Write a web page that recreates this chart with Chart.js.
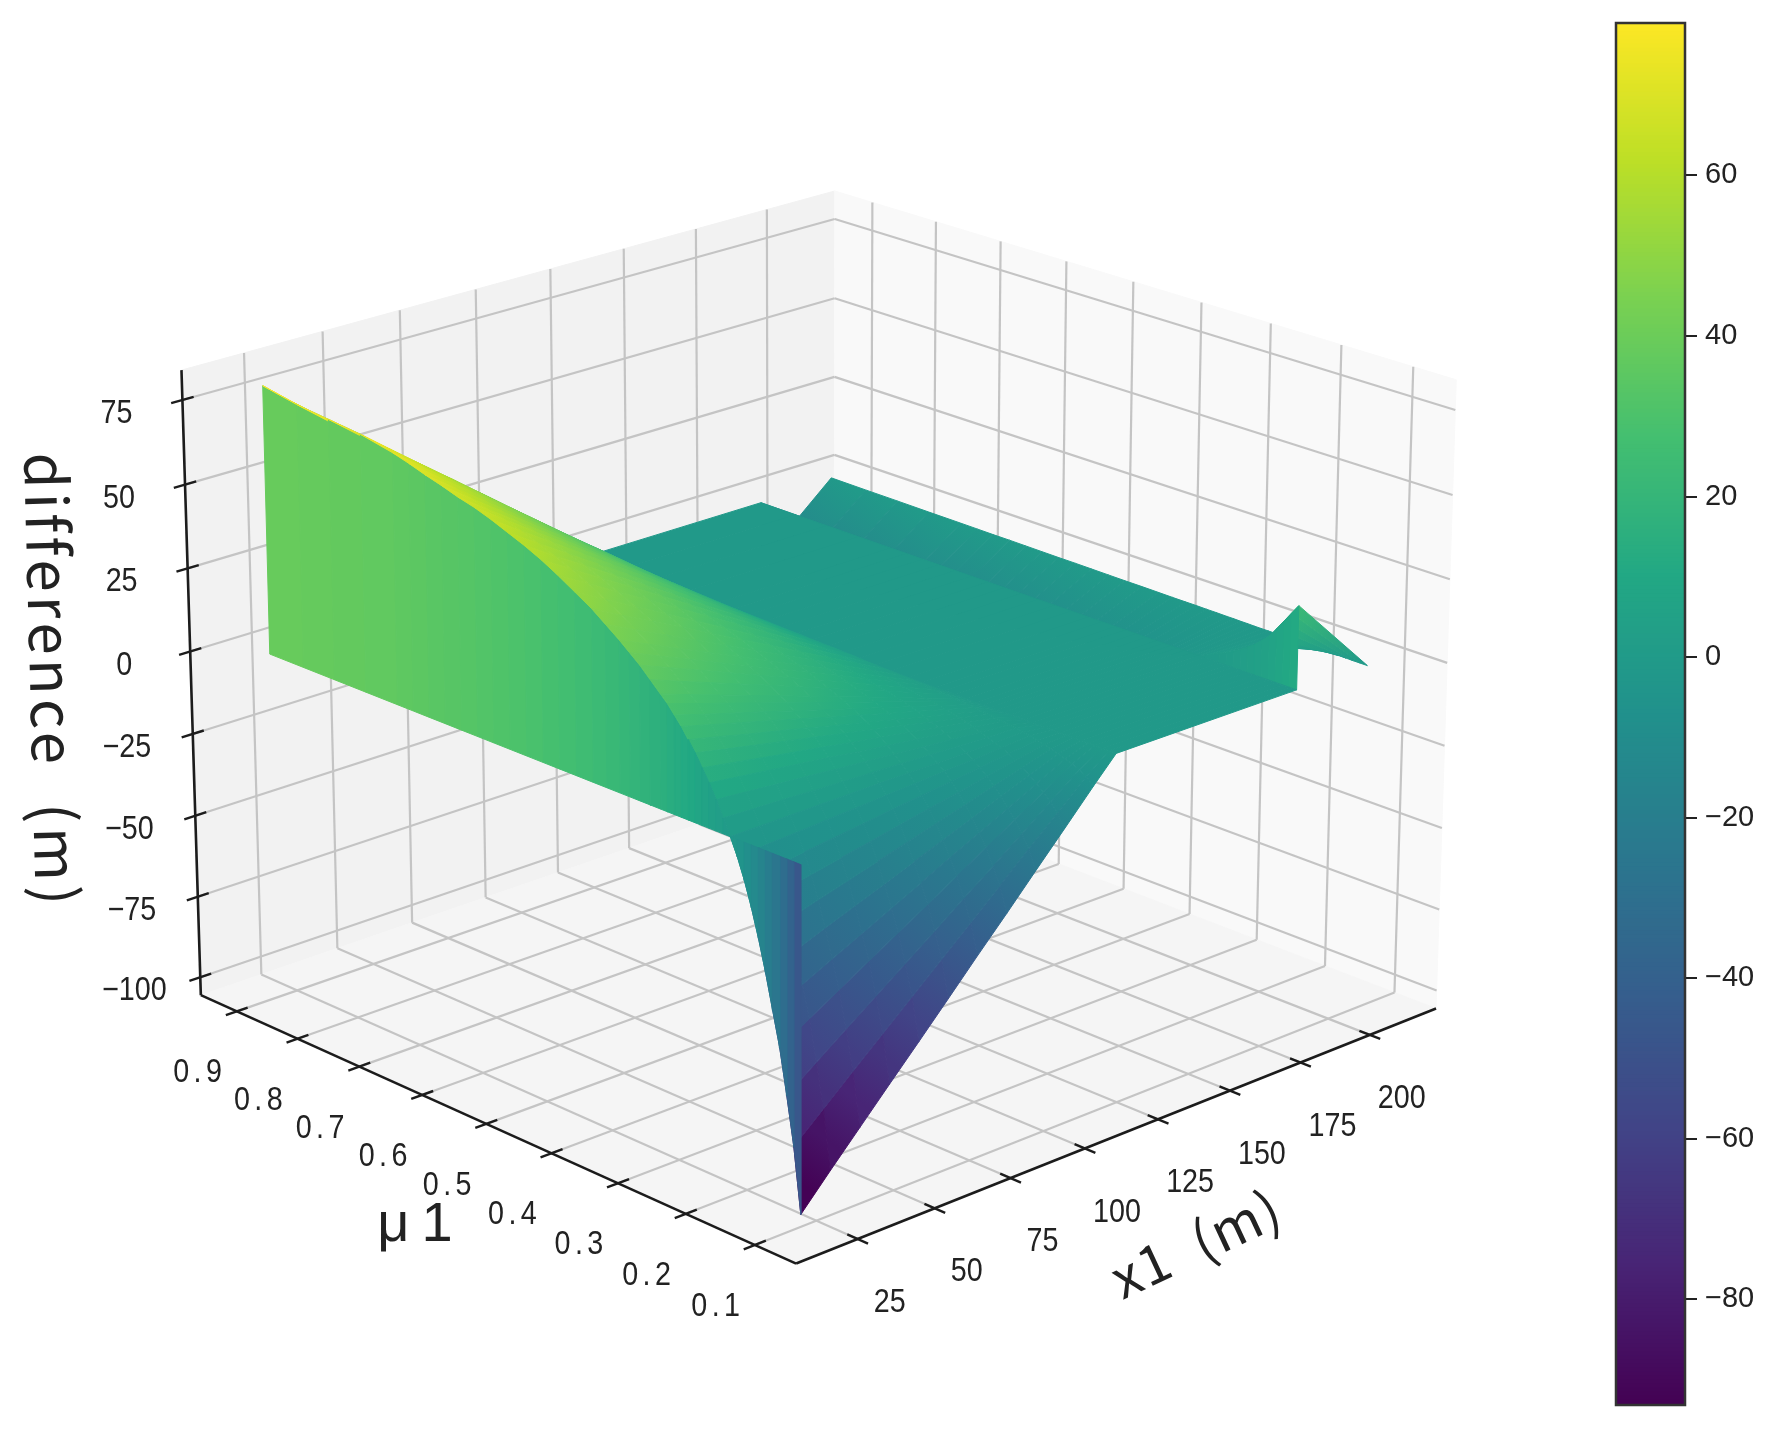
<!DOCTYPE html>
<html>
<head>
<meta charset="utf-8">
<title>difference surface</title>
<script src="https://cdn.jsdelivr.net/npm/chart.js@4/dist/chart.umd.js"></script>
<style>
    html, body { margin: 0; padding: 0; background: #fff; }
    #surface { position: absolute; left: 0; top: 0; }
    #colorbar { position: absolute; left: 1610px; top: 18px; }
</style>
</head>
<body>
<canvas id="surface" width="1779" height="1430"></canvas>
<canvas id="colorbar" width="169" height="1392"></canvas>
<script>
// tick values of the three axes and the colorbar
const x1Ticks = [25, 50, 75, 100, 125, 150, 175, 200];
const muTicks = [0.1, 0.2, 0.3, 0.4, 0.5, 0.6, 0.7, 0.8, 0.9];
const zTicks = [-100, -75, -50, -25, 0, 25, 50, 75];
const cbarTicks = [-80, -60, -40, -20, 0, 20, 40, 60];

// axis limits of the box
const x1Lim = [5.4, 224.3];
const muLim = [0.041, 0.96];
const zLim = [-105.6, 83.8];
const cbarLim = [-93.2, 79];

// surface grid
const x1Values = [20, 20.05, 29.5, 39, 48.6, 58.1, 67.7, 77.2, 86.8, 96.3, 105.8, 115.4, 123, 185.5, 185.55, 210.8];
const muValues = [0.10, 0.11, 0.12, 0.13, 0.14, 0.15, 0.16, 0.17, 0.18, 0.19, 0.20, 0.21, 0.22, 0.23, 0.24,
                  0.25, 0.26, 0.27, 0.28, 0.29, 0.30, 0.315, 0.33, 0.345, 0.36, 0.38, 0.40, 0.425, 0.45,
                  0.475, 0.50, 0.525, 0.55, 0.575, 0.60, 0.625, 0.65, 0.675, 0.70, 0.75, 0.80, 0.85, 0.905];
const zRows = [
    [-1, -102, -92.5, -83.2, -73.8, -64.6, -55.2, -45.8, -36.5, -27.1, -17.8, -8.3, -1, -1, 24, -1.2],
    [-1, -83, -75.3, -67.6, -59.9, -52.3, -44.6, -36.9, -29.2, -21.5, -13.9, -6.1, -1, -1, 21, -1.2],
    [-1, -69, -62.6, -56.2, -49.8, -43.5, -37.1, -30.6, -24.3, -17.9, -11.5, -5.1, -1, -1, 18, -1.2],
    [-1, -56, -50.8, -45.6, -40.4, -35.3, -30.1, -24.9, -19.7, -14.5, -9.4, -4.1, -1, -1, 15, -1.15],
    [-1, -46, -41.7, -37.5, -33.2, -29, -24.7, -20.4, -16.2, -11.9, -7.7, -3.4, -1, -1, 12, -1.15],
    [-1, -36, -32.7, -29.3, -26, -22.7, -19.3, -16, -12.7, -9.3, -6, -2.7, -1, -1, 10, -1.1],
    [-1, -27, -24.5, -22, -19.5, -17, -14.5, -12, -9.5, -7, -4.5, -2, -1, -1, 8, -1.1],
    [-1, -19, -17.2, -15.5, -13.7, -12, -10.2, -8.4, -6.7, -4.9, -3.2, -1.4, -1, -1, 6.5, -1.1],
    [-1, -12, -10.9, -9.8, -8.7, -7.6, -6.4, -5.3, -4.2, -3.1, -2, -0.9, -1, -1, 5, -1.1],
    [-1, -6, -5.4, -4.9, -4.3, -3.8, -3.2, -2.7, -2.1, -1.6, -1, -0.4, -1, -1, 3.7, -1.05],
    [-1, -1, -0.9, -0.8, -0.7, -0.6, -0.5, -0.4, -0.4, -0.3, -0.2, -0.1, -1, -1, 2.5, -1.05],
    [-1, 3.5, 3.2, 2.9, 2.5, 2.2, 1.9, 1.6, 1.2, 0.9, 0.6, 0.3, -1, -1, 1.5, -1],
    [-1, 8, 7.3, 6.5, 5.8, 5, 4.3, 3.6, 2.8, 2.1, 1.3, 0.6, -1, -1, 0.5, -1],
    [-1, 12, 10.9, 9.8, 8.7, 7.6, 6.4, 5.3, 4.2, 3.1, 2, 0.9, -1, -1, -0.4, -1],
    [-1, 15.5, 14.1, 12.6, 11.2, 9.8, 8.3, 6.9, 5.5, 4, 2.6, 1.1, -1, -1, -1.2, -1],
    [-1, 19, 17.2, 15.5, 13.7, 12, 10.2, 8.4, 6.7, 4.9, 3.2, 1.4, -1, -1, -2, -1],
    [-1, 22, 20, 17.9, 15.9, 13.9, 11.8, 9.8, 7.7, 5.7, 3.7, 1.6, -1, -1, -2.5, -1],
    [-1, 25, 22.7, 20.4, 18.1, 15.8, 13.4, 11.1, 8.8, 6.5, 4.2, 1.9, -1, -1, -3, -0.95],
    [-1, 27.5, 24.9, 22.4, 19.9, 17.3, 14.8, 12.2, 9.7, 7.1, 4.6, 2, -1, -1, -3.7, -0.95],
    [-1, 30, 27.2, 24.5, 21.7, 18.9, 16.1, 13.3, 10.6, 7.8, 5, 2.2, -1, -1, -4.3, -0.9],
    [-1, 32, 29, 26.1, 23.1, 20.2, 17.2, 14.2, 11.3, 8.3, 5.3, 2.4, -1, -1, -5, -0.9],
    [-1, 35, 31.7, 28.5, 25.3, 22.1, 18.8, 15.5, 12.3, 9.1, 5.8, 2.6, -1, -1, -5.5, -0.85],
    [-1, 38, 34.5, 31, 27.4, 23.9, 20.4, 16.9, 13.4, 9.8, 6.3, 2.8, -1, -1, -6, -0.85],
    [-1, 40.5, 36.7, 33, 29.2, 25.5, 21.7, 18, 14.3, 10.5, 6.8, 3, -1, -1, -6.5, -0.8],
    [-1, 43, 39, 35, 31, 27.1, 23.1, 19.1, 15.1, 11.1, 7.2, 3.2, -1, -1, -7, -0.8],
    [-1, 46, 41.7, 37.5, 33.2, 29, 24.7, 20.4, 16.2, 11.9, 7.7, 3.4, -1, -1, -8, -0.8],
    [-1, 49, 44.4, 39.9, 35.4, 30.9, 26.3, 21.8, 17.2, 12.7, 8.2, 3.6, -1, -1, -9, -0.75],
    [-1, 52, 47.2, 42.4, 37.5, 32.8, 27.9, 23.1, 18.3, 13.5, 8.7, 3.8, -1, -1, -9.8, -0.7],
    [-1, 55, 49.9, 44.8, 39.7, 34.7, 29.5, 24.4, 19.4, 14.2, 9.2, 4.1, -1, -1, -10.5, -0.7],
    [-1, 57.7, 52.3, 47, 41.7, 36.4, 31, 25.6, 20.3, 14.9, 9.6, 4.3, -1, -1, -11.2, -0.65],
    [-1, 60, 54.4, 48.9, 43.3, 37.8, 32.2, 26.6, 21.1, 15.5, 10, 4.4, -1, -1, -12, -0.6],
    [-1, 62, 56.2, 50.5, 44.8, 39.1, 33.3, 27.5, 21.8, 16.1, 10.4, 4.6, -1, -1, -12.5, -0.55],
    [-1, 64, 58, 52.2, 46.2, 40.3, 34.4, 28.4, 22.5, 16.6, 10.7, 4.7, -1, -1, -13, -0.55],
    [-1, 65.7, 59.6, 53.5, 47.4, 41.4, 35.3, 29.2, 23.1, 17, 11, 4.9, -1, -1, -13.8, -0.5],
    [-1, 67, 60.8, 54.6, 48.4, 42.2, 36, 29.7, 23.6, 17.4, 11.2, 5, -1, -1, -14.5, -0.45],
    [-1, 68.6, 62.2, 55.9, 49.5, 43.2, 36.8, 30.5, 24.1, 17.8, 11.5, 5.1, -1, -1, -15, -0.4],
    [-1, 70, 63.5, 57.1, 50.5, 44.1, 37.6, 31.1, 24.6, 18.1, 11.7, 5.2, -1, -1, -15.5, -0.4],
    [-1, 71.6, 64.9, 58.4, 51.7, 45.1, 38.4, 31.8, 25.2, 18.5, 12, 5.3, -1, -1, -16, -0.35],
    [-1, 73, 66.2, 59.5, 52.7, 46, 39.2, 32.4, 25.7, 18.9, 12.2, 5.4, -1, -1, -16.5, -0.3],
    [-1, 75, 68, 61.1, 54.2, 47.3, 40.3, 33.3, 26.4, 19.4, 12.5, 5.6, -1, -1, -17.5, -0.25],
    [-1, 76, 68.9, 61.9, 54.9, 47.9, 40.8, 33.7, 26.8, 19.7, 12.7, 5.6, -1, -1, -18.5, -0.15],
    [-1, 77, 69.8, 62.8, 55.6, 48.5, 41.3, 34.2, 27.1, 19.9, 12.9, 5.7, -1, -1, -19, -0.1],
    [-1, 79, 71.6, 64.4, 57, 49.8, 42.4, 35.1, 27.8, 20.5, 13.2, 5.8, -1, -1, -20, 0]
];

// box corners on the page: [u, v, w, pageX, pageY], used to fit the camera
const boxCorners = [
    [0, 0, 0, 796.5, 1265],
    [1, 0, 0, 1436, 1007],
    [0, 1, 0, 200.5, 993],
    [1, 1, 0, 834, 780],
    [1, 1, 1, 835, 190],
    [0, 1, 1, 181.5, 371],
    [1, 0, 1, 1456, 380]
];

const viridisStops = ['#440154', '#482475', '#414487', '#355f8d', '#2a788e', '#21918c',
                      '#22a884', '#44bf70', '#7ad151', '#bddf26', '#fde725'];

function hexToRgb(hex) {
    return [1, 3, 5].map(i => parseInt(hex.substr(i, 2), 16));
}

function viridis(z) {
    let t = (z - cbarLim[0]) / (cbarLim[1] - cbarLim[0]);
    t = Math.min(1, Math.max(0, t)) * (viridisStops.length - 1);
    const i = Math.min(Math.floor(t), viridisStops.length - 2);
    const a = hexToRgb(viridisStops[i]);
    const b = hexToRgb(viridisStops[i + 1]);
    const c = a.map((v, k) => Math.round(v + (b[k] - v) * (t - i)));
    return 'rgb(' + c.join(',') + ')';
}

// least squares fit of the 3D to 2D projective matrix
function fitCamera(points) {
    const n = 11;
    const ata = [];
    for (let i = 0; i < n; i++) ata.push(new Array(n + 1).fill(0));
    function addRow(row, rhs) {
        for (let i = 0; i < n; i++) {
            for (let j = 0; j < n; j++) ata[i][j] += row[i] * row[j];
            ata[i][n] += row[i] * rhs;
        }
    }
    points.forEach(function(p) {
        const [u, v, w, x, y] = p;
        addRow([u, v, w, 1, 0, 0, 0, 0, -x * u, -x * v, -x * w], x);
        addRow([0, 0, 0, 0, u, v, w, 1, -y * u, -y * v, -y * w], y);
    });
    for (let c = 0; c < n; c++) {
        let best = c;
        for (let r = c + 1; r < n; r++) if (Math.abs(ata[r][c]) > Math.abs(ata[best][c])) best = r;
        [ata[c], ata[best]] = [ata[best], ata[c]];
        for (let r = 0; r < n; r++) {
            if (r === c) continue;
            const f = ata[r][c] / ata[c][c];
            for (let k = c; k <= n; k++) ata[r][k] -= f * ata[c][k];
        }
    }
    return ata.map((row, i) => row[n] / row[i]);
}

const cam = fitCamera(boxCorners);

function depth(u, v, w) {
    return cam[8] * u + cam[9] * v + cam[10] * w + 1;
}

function project(u, v, w) {
    const d = depth(u, v, w);
    return {
        x: (cam[0] * u + cam[1] * v + cam[2] * w + cam[3]) / d,
        y: (cam[4] * u + cam[5] * v + cam[6] * w + cam[7]) / d
    };
}

const uOf = x => (x - x1Lim[0]) / (x1Lim[1] - x1Lim[0]);
const vOf = m => (m - muLim[0]) / (muLim[1] - muLim[0]);
const wOf = z => (z - zLim[0]) / (zLim[1] - zLim[0]);

const surfaceCtx = document.getElementById('surface').getContext('2d');
let datasets = [];

function addPolygon(points, color) {
    datasets.push({
        data: points.concat([points[0]]),
        showLine: true,
        fill: 'shape',
        backgroundColor: color,
        borderColor: color,
        borderWidth: 1,
        pointRadius: 0,
        tension: 0
    });
}

function addLine(a, b, color, width) {
    datasets.push({
        data: [project(a[0], a[1], a[2]), project(b[0], b[1], b[2])],
        showLine: true,
        fill: false,
        borderColor: color,
        borderWidth: width,
        pointRadius: 0,
        tension: 0
    });
}

// panes
addPolygon([project(0, 1, 0), project(1, 1, 0), project(1, 1, 1), project(0, 1, 1)], '#f2f2f2');
addPolygon([project(1, 0, 0), project(1, 1, 0), project(1, 1, 1), project(1, 0, 1)], '#f9f9f9');
addPolygon([project(0, 0, 0), project(1, 0, 0), project(1, 1, 0), project(0, 1, 0)], '#f5f5f5');

// grid lines
const gridColor = '#c4c4c4';
const gridWidth = 2.2;
x1Ticks.forEach(function(t) {
    const u = uOf(t);
    addLine([u, 0, 0], [u, 1, 0], gridColor, gridWidth);
    addLine([u, 1, 0], [u, 1, 1], gridColor, gridWidth);
});
muTicks.forEach(function(t) {
    const v = vOf(t);
    addLine([0, v, 0], [1, v, 0], gridColor, gridWidth);
    addLine([1, v, 0], [1, v, 1], gridColor, gridWidth);
});
zTicks.forEach(function(t) {
    const w = wOf(t);
    addLine([0, 1, w], [1, 1, w], gridColor, gridWidth);
    addLine([1, 1, w], [1, 0, w], gridColor, gridWidth);
});

// axis lines and their ticks
const axisColor = '#1c1c1c';
const tickHalf = 0.016;
addLine([0, 1, 0], [0, 0, 0], axisColor, 2.6);
addLine([0, 0, 0], [1, 0, 0], axisColor, 2.6);
addLine([0, 1, 0], [0, 1, 1], axisColor, 2.6);
x1Ticks.forEach(t => addLine([uOf(t), -tickHalf, 0], [uOf(t), tickHalf, 0], axisColor, 2.4));
muTicks.forEach(t => addLine([-tickHalf, vOf(t), 0], [tickHalf, vOf(t), 0], axisColor, 2.4));
zTicks.forEach(t => addLine([-tickHalf, 1, wOf(t)], [tickHalf, 1, wOf(t)], axisColor, 2.4));

// columns whose faces fade along the row; the others are single colour walls and flats
const shadedColumns = [1, 2, 3, 4, 5, 6, 7, 8, 9, 10, 11, 14];

function gridPoint(r, c) {
    return project(uOf(x1Values[c]), vOf(muValues[r]), wOf(zRows[r][c]));
}

function faceColor(r, c, mean) {
    if (shadedColumns.indexOf(c) < 0) return viridis(mean);
    const a = gridPoint(r, c);
    const b = gridPoint(r + 1, c);
    const p = gridPoint(r, c + 1);
    const q = gridPoint(r + 1, c + 1);
    const g = surfaceCtx.createLinearGradient((a.x + b.x) / 2, (a.y + b.y) / 2, (p.x + q.x) / 2, (p.y + q.y) / 2);
    g.addColorStop(0, viridis((zRows[r][c] + zRows[r + 1][c]) / 2));
    g.addColorStop(1, viridis((zRows[r][c + 1] + zRows[r + 1][c + 1]) / 2));
    return g;
}

// surface faces, far ones first so that near ones paint over them
let faces = [];
for (let r = 0; r < muValues.length - 1; r++) {
    for (let c = 0; c < x1Values.length - 1; c++) {
        const corners = [[r, c], [r, c + 1], [r + 1, c + 1], [r + 1, c]];
        let mean = 0;
        let d = 0;
        const pts = corners.map(function(rc) {
            const z = zRows[rc[0]][rc[1]];
            mean += z / 4;
            d += depth(uOf(x1Values[rc[1]]), vOf(muValues[rc[0]]), wOf(z)) / 4;
            return gridPoint(rc[0], rc[1]);
        });
        faces.push({ pts: pts, color: faceColor(r, c, mean), d: d });
    }
}
faces.sort((a, b) => b.d - a.d);
faces.forEach(f => addPolygon(f.pts, f.color));

// Chart.js paints the first dataset last
datasets.reverse();

const labelColor = '#222222';

function drawText(ctx, text, x, y, font, rotation, spacing, squeeze) {
    ctx.save();
    ctx.translate(x, y);
    ctx.rotate((rotation || 0) * Math.PI / 180);
    ctx.scale(squeeze || 1, 1);
    ctx.font = font;
    ctx.letterSpacing = spacing || '0px';
    ctx.fillStyle = labelColor;
    ctx.textAlign = 'center';
    ctx.textBaseline = 'middle';
    ctx.fillText(text, 0, 0);
    ctx.restore();
}

const labelFont = '33px "Liberation Sans"';
const boxLabels = {
    id: 'boxLabels',
    afterDatasetsDraw: function(chart) {
        const ctx = chart.ctx;
        x1Ticks.forEach(function(t) {
            const p = project(uOf(t), 0, 0);
            drawText(ctx, String(t), p.x + 32, p.y + 64, labelFont, 0, '0px', 0.87);
        });
        muTicks.forEach(function(t) {
            const p = project(0, vOf(t), 0);
            drawText(ctx, t.toFixed(1), p.x - 37, p.y + 62, labelFont, 0, '5px', 0.87);
        });
        zTicks.forEach(function(t) {
            const p = project(0, 1, wOf(t));
            const text = t < 0 ? '\u2212' + Math.abs(t) : String(t);
            drawText(ctx, text, p.x - 66, p.y + 14, labelFont, 0, '0px', 0.87);
        });
        drawText(ctx, 'difference  (m)', 52, 681, '58px "Noto Sans CJK SC"', 88.5, '4.5px');
        drawText(ctx, '\u03bc1', 421, 1226, '56px "Liberation Sans"', 0, '12px');
        drawText(ctx, 'x1  (m)', 1196, 1243, '54px "Noto Sans CJK SC"', -25, '2px');
    }
};

new Chart(surfaceCtx, {
    type: 'scatter',
    data: { datasets: datasets },
    options: {
        responsive: false,
        animation: false,
        layout: { padding: 0 },
        plugins: { legend: { display: false }, tooltip: { enabled: false } },
        scales: {
            x: { type: 'linear', min: 0, max: 1779, display: false },
            y: { type: 'linear', min: 0, max: 1430, reverse: true, display: false }
        }
    },
    plugins: [boxLabels]
});

// colorbar, one floating bar per colour step
let cbarSets = [];
for (let z = cbarLim[0]; z < cbarLim[1]; z += 0.5) {
    cbarSets.push({
        data: [[z, Math.min(z + 0.6, cbarLim[1])]],
        backgroundColor: viridis(z + 0.25),
        barPercentage: 1,
        categoryPercentage: 1,
        grouped: false
    });
}

const cbarFrame = {
    id: 'cbarFrame',
    afterDraw: function(chart) {
        const a = chart.chartArea;
        chart.ctx.save();
        chart.ctx.strokeStyle = '#333333';
        chart.ctx.lineWidth = 2.5;
        chart.ctx.strokeRect(a.left, a.top, a.right - a.left, a.bottom - a.top);
        chart.ctx.restore();
    }
};

new Chart(document.getElementById('colorbar'), {
    type: 'bar',
    data: { labels: [''], datasets: cbarSets },
    options: {
        responsive: false,
        animation: false,
        layout: { padding: { left: 6, top: 5, bottom: 5, right: 0 } },
        plugins: { legend: { display: false }, tooltip: { enabled: false } },
        scales: {
            x: { display: false },
            y: {
                position: 'right',
                min: cbarLim[0],
                max: cbarLim[1],
                grid: { drawOnChartArea: false, color: '#222222', lineWidth: 2, tickLength: 12 },
                border: { display: false },
                afterBuildTicks: function(scale) {
                    scale.ticks = cbarTicks.map(v => ({ value: v }));
                },
                afterFit: function(scale) {
                    scale.width = 94;
                    scale.paddingTop = 0;
                    scale.paddingBottom = 0;
                },
                ticks: {
                    autoSkip: false,
                    color: labelColor,
                    padding: 8,
                    font: { family: 'Liberation Sans', size: 29 },
                    callback: v => (v < 0 ? '\u2212' + Math.abs(v) : String(v))
                }
            }
        }
    },
    plugins: [cbarFrame]
});
</script>
</body>
</html>
